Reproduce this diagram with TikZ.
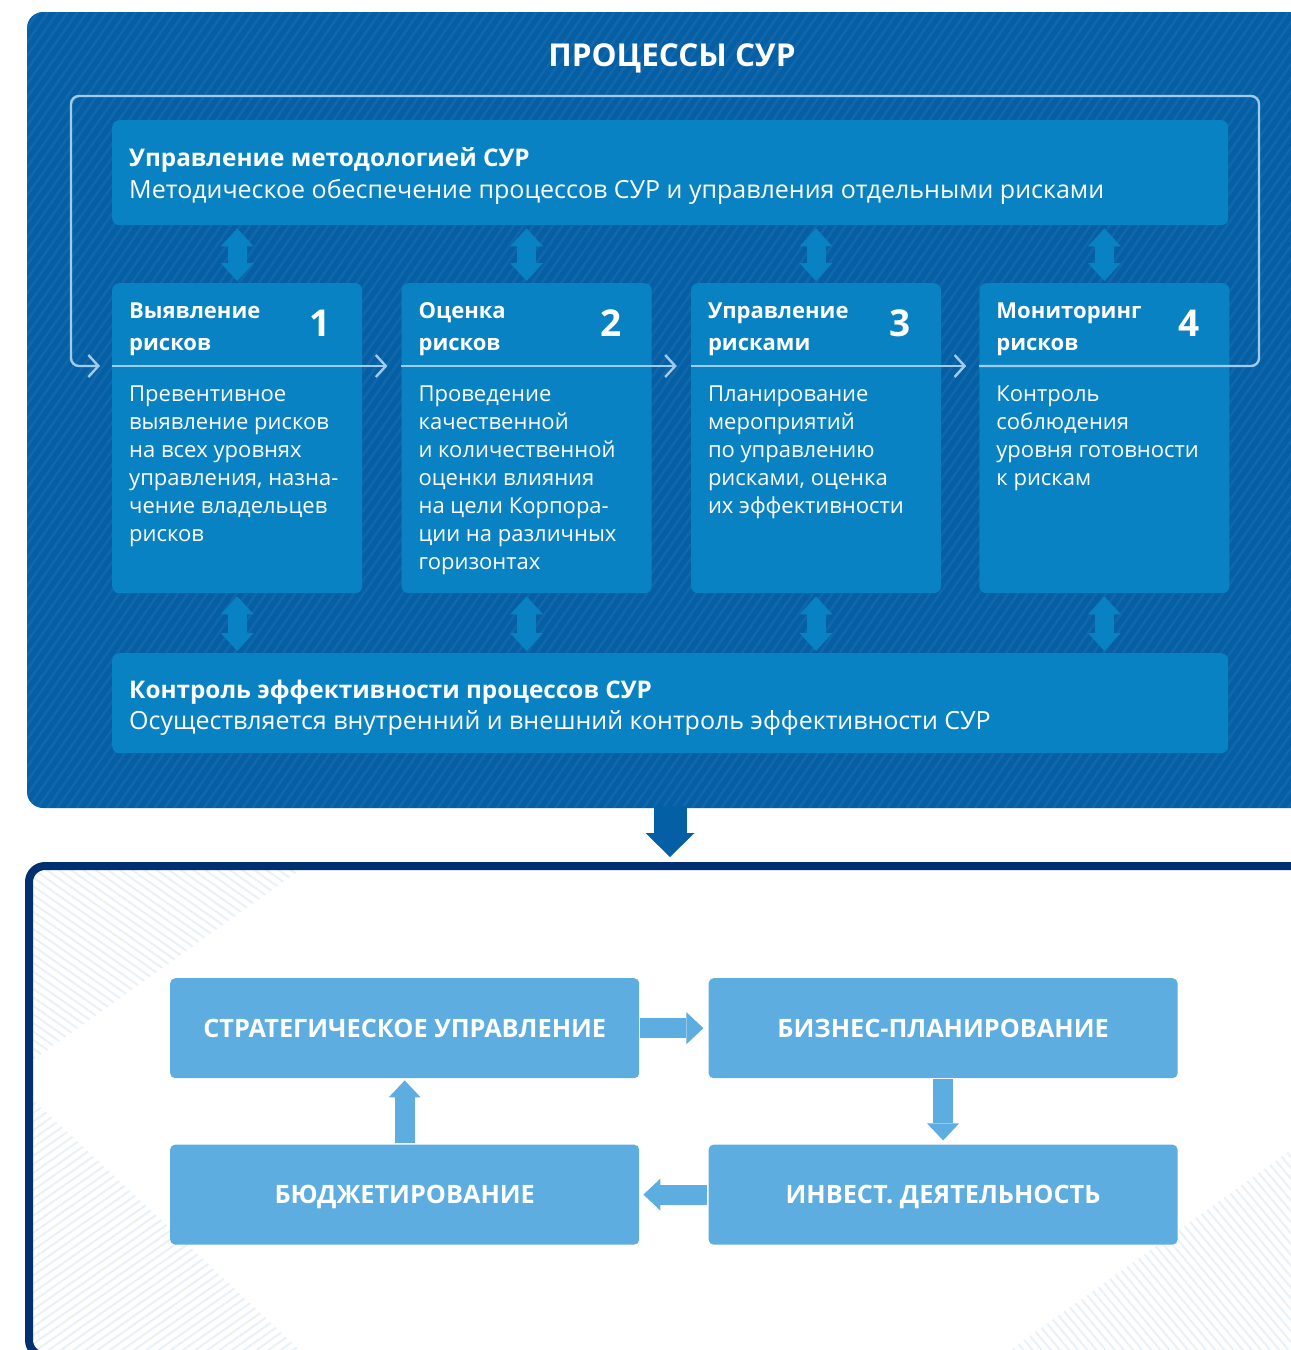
\documentclass[tikz,border=0pt]{standalone}
\usepackage{fontspec}
\setmainfont{Open Sans}
\usetikzlibrary{arrows.meta,calc,positioning,patterns.meta}
\definecolor{panel}{RGB}{5,95,165}
\definecolor{tileblue}{RGB}{8,130,194}
\definecolor{wire}{RGB}{160,203,236}
\definecolor{navy}{RGB}{0,48,112}
\definecolor{sky}{RGB}{94,173,224}
\definecolor{haze}{RGB}{200,220,240}
\tikzset{
  tile/.style={fill=tileblue, rounded corners=7pt, anchor=north west, inner sep=0pt},
  stage/.style={tile, minimum width=250pt, minimum height=310pt},
  band/.style={tile, minimum width=1116pt},
  step box/.style={fill=sky, rounded corners=5pt, inner sep=0pt, anchor=north west,
    minimum width=469pt, minimum height=100pt, text=white,
    text height=18pt, text depth=0pt,
    font=\fontsize{25.3}{30}\selectfont\bfseries},
  head/.style={anchor=base west, inner sep=0pt, align=left, text=white,
    font=\fontsize{22}{32}\selectfont\bfseries},
  bandhead/.style={head, font=\fontsize{24.3}{32}\selectfont\bfseries},
  body/.style={anchor=base west, inner sep=0pt, align=left, text=white,
    font=\fontsize{22}{28}\selectfont},
  bandbody/.style={body, font=\fontsize{25}{28}\selectfont},
  num/.style={anchor=base, inner sep=0pt, text=white,
    font=\fontsize{37}{40}\selectfont\bfseries},
  flow/.style={draw=wire, line width=2.4pt,
    -{Straight Barb[length=10pt, width=22pt, line width=2.4pt]}},
  dbl/.style={draw=tileblue, line width=19pt, shorten <=3pt, shorten >=2pt,
    {Triangle[length=18pt, width=33pt, line width=0pt]}-{Triangle[length=18pt, width=33pt, line width=0pt]}},
  fat/.style={draw=sky, line width=20pt,
    -{Triangle[length=17pt, width=32pt, line width=0pt]}},
  haze lines/.style={pattern={Lines[angle=#1, distance=7pt, line width=2pt]},
    pattern color=haze, opacity=0.4},
}

\begin{document}
\begin{tikzpicture}[x=1pt, y=-1pt]
  \useasboundingbox (0,0) rectangle (1291,1350);
  \clip (0,0) rectangle (1291,1350);
  \fill[white] (0,0) rectangle (1291,1350);

  % upper panel
  \fill[panel, rounded corners=16pt] (27,12) rectangle (1330,808);
  \fill[pattern={Lines[angle=55, distance=8pt, line width=2.5pt]}, pattern color=white, opacity=0.05,
    rounded corners=16pt] (27,12) rectangle (1330,808);
  \node[text=white, font=\fontsize{31.5}{36}\selectfont\bfseries] (ttl) at (672,58) {ПРОЦЕССЫ СУР};

  % methodology and control bands
  \node[band, minimum height=105pt] (meth) at (112,120) {};
  \node[bandhead] (methhead) at ($(meth.north west)+(17,46)$) {Управление методологией СУР};
  \node[bandbody] (methtext) at ($(meth.north west)+(17,78)$) {Методическое обеспечение процессов СУР и управления отдельными рисками};

  \node[band, minimum height=100pt] (ctrl) at (112,653) {};
  \node[bandhead] (ctrlhead) at ($(ctrl.north west)+(17,45)$) {Контроль эффективности процессов СУР};
  \node[bandbody] (ctrltext) at ($(ctrl.north west)+(17,76)$) {Осуществляется внутренний и внешний контроль эффективности СУР};

  % four stages
  \node[stage] (s1) at (112,283) {};
  \node[stage, right=39pt of s1] (s2) {};
  \node[stage, right=39pt of s2] (s3) {};
  \node[stage, right=38pt of s3] (s4) {};

  % (base of a multi-line node = its last line)
  \node[head] (h1) at ($(s1.north west)+(17,67)$) {Выявление\\рисков};
  \node[head] (h2) at ($(s2.north west)+(17,67)$) {Оценка\\рисков};
  \node[head] (h3) at ($(s3.north west)+(17,67)$) {Управление\\рисками};
  \node[head] (h4) at ($(s4.north west)+(17,67)$) {Мониторинг\\рисков};

  \node[num] (n1) at ($(s1.north east)+(-42,53)$) {1};
  \node[num] (n2) at ($(s2.north east)+(-41,53)$) {2};
  \node[num] (n3) at ($(s3.north east)+(-41,53)$) {3};
  \node[num] (n4) at ($(s4.north east)+(-41,53)$) {4};

  \node[body] (b1) at ($(s1.north west)+(17,258)$) {Превентивное\\выявление рисков\\на всех уровнях\\управления, назна-\\чение владельцев\\рисков};
  \node[body] (b2) at ($(s2.north west)+(17,286)$) {Проведение\\качественной\\и количественной\\оценки влияния\\на цели Корпора-\\ции на различных\\горизонтах};
  \node[body] (b3) at ($(s3.north west)+(17,230)$) {Планирование\\мероприятий\\по управлению\\рисками, оценка\\их эффективности};
  \node[body] (b4) at ($(s4.north west)+(17,202)$) {Контроль\\соблюдения\\уровня готовности\\к рискам};

  % process loop
  \coordinate (d1) at ($(s1.north west)+(0,83)$);
  \coordinate (d2) at ($(s2.north west)+(0,83)$);
  \coordinate (d3) at ($(s3.north west)+(0,83)$);
  \coordinate (d4) at ($(s4.north west)+(0,83)$);
  \draw[flow, shorten >=14pt] (d1) -- (d2);
  \draw[flow, shorten >=14pt] (d2) -- (d3);
  \draw[flow, shorten >=13pt] (d3) -- (d4);
  \draw[flow, rounded corners=8pt, shorten >=12pt] (d4) -| (1259,96) -| (71,366) -- (d1);

  % links to the bands
  \foreach \s in {s1,s2,s3,s4} {
    \draw[dbl] (meth.south -| \s.north) -- (\s.north);
    \draw[dbl] (\s.south) -- (ctrl.north -| \s.south);
  }

  % hand-over arrow
  \coordinate (out) at (670,806);
  \coordinate (in) at (670,857);
  \draw[panel, line width=33pt, -{Triangle[length=24pt, width=49pt, line width=0pt]}] (out) -- (in);

  % lower frame
  \fill[haze lines=-35] (33,870) -- (300,870) -- (33,1060) -- cycle;
  \fill[haze lines=35] (33,1100) -- (33,1350) -- (300,1350) -- cycle;
  \fill[haze lines=-50] (1291,1350) -- (1010,1350) -- (1291,1150) -- cycle;
  \draw[navy, line width=8pt, rounded corners=16pt] (29,866) rectangle (1340,1356);

  % planning cycle
  \node[step box] (strat) at (170,978) {СТРАТЕГИЧЕСКОЕ УПРАВЛЕНИЕ};
  \node[step box, right=69pt of strat] (biz) {БИЗНЕС-ПЛАНИРОВАНИЕ};
  \node[step box, below=66pt of strat] (budg) {БЮДЖЕТИРОВАНИЕ};
  \node[step box, right=69pt of budg] (inv) {ИНВЕСТ. ДЕЯТЕЛЬНОСТЬ};

  \draw[fat, shorten <=1pt, shorten >=5pt] (strat) -- (biz);
  \draw[fat, shorten <=1pt, shorten >=4pt] (biz) -- (inv);
  \draw[fat, shorten <=1pt, shorten >=4pt] (inv) -- (budg);
  \draw[fat, shorten <=1pt, shorten >=2pt] (budg) -- (strat);
\end{tikzpicture}
\end{document}
